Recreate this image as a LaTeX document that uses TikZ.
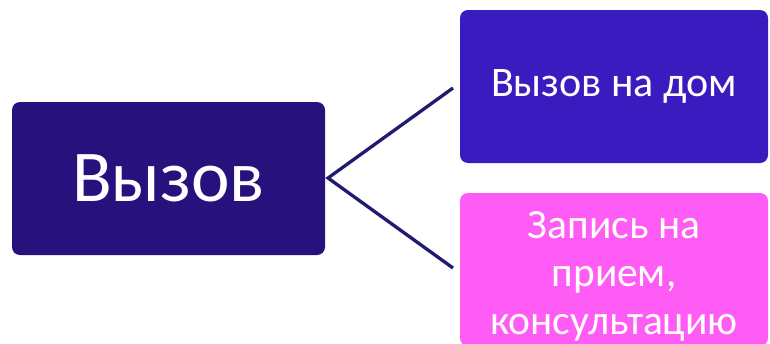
\documentclass[tikz,border=0pt]{standalone}
\usepackage{fontspec}
\setmainfont{Carlito}
\definecolor{leftbox}{HTML}{26117D}
\definecolor{topbox}{HTML}{3A1BBF}
\definecolor{botbox}{HTML}{FF5CF5}
\definecolor{linkcol}{HTML}{201B6E}
\begin{document}
\begin{tikzpicture}[x=1pt,y=-1pt,
  box/.style={rounded corners=8pt, text=white, align=center, inner sep=0pt},
  link/.style={draw=linkcol, line width=3.3pt, line join=miter}]
\useasboundingbox (0,0) rectangle (770,343);
\clip (0,0) rectangle (770,343);
\fill[white] (0,0) rectangle (770,343);
\node[box, fill=leftbox, minimum width=313pt, minimum height=153pt,
  font=\fontsize{73}{74}\selectfont] (main) at (168.5,178.5) {Вызов};
\node[box, fill=topbox, minimum width=308pt, minimum height=153pt,
  font=\fontsize{42}{48}\selectfont] (home) at (614,86.5) {Вызов на дом};
\node[box, fill=botbox, minimum width=308pt, minimum height=153pt,
  label={[text=white, align=center, inner sep=0pt, yshift=-6.5pt,
  font=\fontsize{41.5}{48}\selectfont]center:{Запись на\\прием,\\консультацию}}]
  (appt) at (614,269.5) {};
\coordinate (apex) at (328,178);
\coordinate (endA) at (453,88);
\coordinate (endB) at (453,268);
\draw[link] (endA) -- (apex) -- (endB);
\end{tikzpicture}
\end{document}
